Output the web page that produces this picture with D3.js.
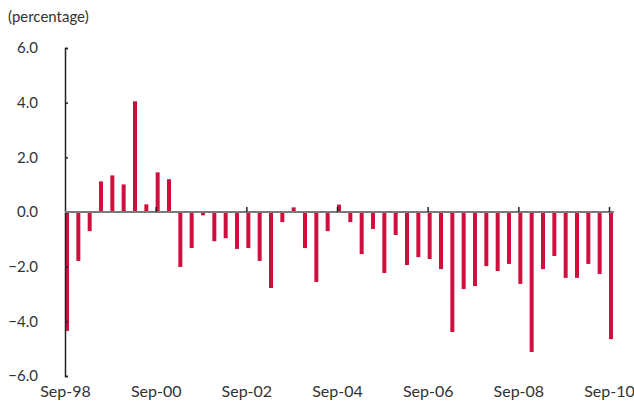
<!DOCTYPE html>
<html>
<head>
<meta charset="utf-8">
<script src="https://cdn.jsdelivr.net/npm/d3@7"></script>
<style>
  body { margin: 0; background: #fff; }
  text { font-family: Lato, "Open Sans", sans-serif; fill: #333; }
</style>
</head>
<body>
<div id="chart"></div>
<script>
// quarterly values, Sep-98 .. Sep-10
var quarters = [];
var years = ["98","99","00","01","02","03","04","05","06","07","08","09","10"];
years.forEach(function(y, i) {
    // Sep of year i, then Dec, then Mar/Jun of next year
    quarters.push("Sep-" + y);
    if (i < years.length - 1) {
        quarters.push("Dec-" + y);
        quarters.push("Mar-" + years[i + 1]);
        quarters.push("Jun-" + years[i + 1]);
    }
});

var values = [
    -4.35, -1.79, -0.70, 1.12, 1.34, 1.01, 4.05, 0.28, 1.45, 1.20,
    -2.01, -1.32, -0.12, -1.07, -0.96, -1.35, -1.32, -1.79, -2.78, -0.37,
    0.17, -1.32, -2.56, -0.70, 0.27, -0.37, -1.54, -0.62, -2.23, -0.84,
    -1.94, -1.65, -1.72, -2.09, -4.39, -2.82, -2.71, -1.98, -2.16, -1.90,
    -2.63, -5.12, -2.09, -1.61, -2.41, -2.41, -1.90, -2.27, -4.65
];

var xTickLabels = ["Sep-98","Sep-00","Sep-02","Sep-04","Sep-06","Sep-08","Sep-10"];
var yTicks = [-6, -4, -2, 0, 2, 4, 6];

var width = 634, height = 403;
var svg = d3.select("#chart").append("svg")
    .attr("width", width)
    .attr("height", height);

var xScale = d3.scaleLinear()
    .domain([0, quarters.length - 1])
    .range([65, 609]);
var yScale = d3.scaleLinear()
    .domain([-6, 6])
    .range([376, 48]);

var barWidth = 4;

// bars
svg.append("g").selectAll("rect")
    .data(values)
    .enter()
    .append("rect")
    .attr("x", function(d, i) { return xScale(i); })
    .attr("y", function(d) { return yScale(Math.max(0, d)); })
    .attr("width", barWidth)
    .attr("height", function(d) { return Math.abs(yScale(d) - yScale(0)); })
    .attr("fill", "#d10f3f");

// y axis
var yAxis = d3.axisLeft(yScale)
    .tickValues(yTicks)
    .tickSizeInner(-3)
    .tickSizeOuter(-3)
    .tickPadding(27)
    .tickFormat(d3.format(".1f"));

var gy = svg.append("g")
    .attr("transform", "translate(65,0)")
    .call(yAxis);
gy.select(".domain").attr("stroke", "#222").attr("stroke-width", 1.5);
gy.selectAll(".tick line").attr("stroke", "#222").attr("stroke-width", 1.5);
gy.selectAll(".tick text")
    .style("font-size", "15px")
    .style("fill", "#333");

// zero line
svg.append("line")
    .attr("x1", 65)
    .attr("x2", xScale(quarters.length - 1) + barWidth + 1)
    .attr("y1", yScale(0))
    .attr("y2", yScale(0))
    .attr("stroke", "#7a7a7a")
    .attr("stroke-width", 2);

// small ticks on the zero line every 8 quarters
var tickIdx = xTickLabels.map(function(l) { return quarters.indexOf(l); });
var xTickAxis = d3.axisBottom(xScale)
    .tickValues(tickIdx.slice(1))
    .tickSizeInner(-5)
    .tickSizeOuter(0)
    .tickFormat("");
var gxt = svg.append("g")
    .attr("transform", "translate(0," + yScale(0) + ")")
    .call(xTickAxis);
gxt.select(".domain").remove();
gxt.selectAll(".tick line").attr("stroke", "#222").attr("stroke-width", 1.5);

// x labels at the bottom
var xAxis = d3.axisBottom(xScale)
    .tickValues(tickIdx)
    .tickSize(0)
    .tickPadding(6)
    .tickFormat(function(d) { return quarters[d]; });
var gx = svg.append("g")
    .attr("transform", "translate(0,380)")
    .call(xAxis);
gx.select(".domain").remove();
gx.selectAll(".tick text")
    .style("font-size", "16px")
    .style("fill", "#333");

// unit label
svg.append("text")
    .attr("x", 8)
    .attr("y", 22)
    .style("font-size", "15px")
    .text("(percentage)");
</script>
</body>
</html>
